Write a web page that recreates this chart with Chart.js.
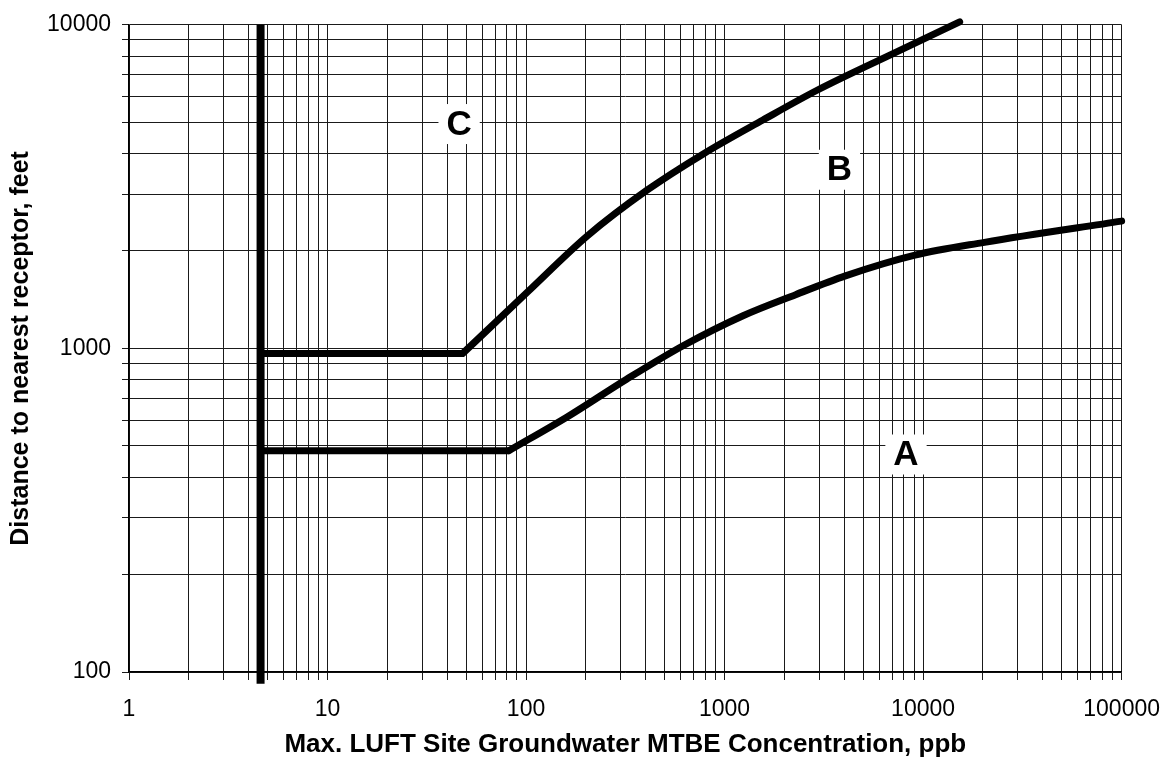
<!DOCTYPE html>
<html>
<head>
<meta charset="utf-8">
<script src="https://cdn.jsdelivr.net/npm/chart.js@4.4.1/dist/chart.umd.min.js"></script>
<style>
  html, body { margin: 0; padding: 0; background: #fff; }
  #wrap { width: 1176px; height: 758px; position: relative; }
</style>
</head>
<body>
<div id="wrap"><canvas id="luftChart"></canvas></div>
<script>
// heavy vertical line (ppb)
const markerX = [4.6, 4.6];
const markerY = [92, 10000];

// curve A
const aFlatX = [4.6, 82];
const aFlatY = [483, 483];
const aRiseX = [82, 161, 321, 621, 1239, 2281, 4063, 9101, 20380, 100000];
const aRiseY = [483, 614, 803, 1021, 1262, 1466, 1676, 1942, 2127, 2473];

// curve B
const bFlatX = [4.6, 48];
const bFlatY = [965, 965];
const bRiseX = [48, 102, 203, 405, 781, 1560, 2974, 7230, 15280];
const bRiseY = [965, 1496, 2223, 3077, 3991, 5080, 6310, 8204, 10214];

// zone letters
const zoneNames = ['A', 'B', 'C'];
const zoneX = [8200, 3790, 46];
const zoneY = [470, 3565, 4935];

const xTickLabels = ['1', '10', '100', '1000', '10000', '100000'];
const yTickLabels = ['100', '1000', '10000'];

const FONT = '"Liberation Sans", Arial, sans-serif';

function pts(xs, ys) {
  return xs.map((v, i) => ({ x: v, y: ys[i] }));
}

// 1..9 in every decade, plus the last decade value
function logTicks(labels) {
  const decs = labels.map(Number);
  const out = [];
  for (let i = 0; i < decs.length - 1; i++) {
    for (let m = 1; m < 10; m++) out.push({ value: decs[i] * m });
  }
  out.push({ value: decs[decs.length - 1] });
  return out;
}

const zoneLetters = {
  id: 'zoneLetters',
  afterDatasetsDraw(chart) {
    const { ctx, scales: { x, y } } = chart;
    ctx.save();
    ctx.font = 'bold 35px ' + FONT;
    ctx.textAlign = 'center';
    ctx.textBaseline = 'middle';
    zoneNames.forEach((name, i) => {
      const px = x.getPixelForValue(zoneX[i]);
      const py = y.getPixelForValue(zoneY[i]);
      const w = ctx.measureText(name).width;
      ctx.fillStyle = '#fff';
      ctx.fillRect(px - w / 2 - 8, py - 20, w + 16, 40);
      ctx.fillStyle = '#000';
      ctx.fillText(name, px, py + 1);
    });
    ctx.restore();
  }
};

const heavy = { borderColor: '#000', pointRadius: 0, fill: false, clip: 14 };

new Chart(document.getElementById('luftChart'), {
  type: 'line',
  data: {
    datasets: [
      { ...heavy, label: 'limit', data: pts(markerX, markerY), borderWidth: 8, borderCapStyle: 'butt' },
      { ...heavy, label: 'A flat', data: pts(aFlatX, aFlatY), borderWidth: 7 },
      { ...heavy, label: 'A', data: pts(aRiseX, aRiseY), borderWidth: 7, borderCapStyle: 'round', cubicInterpolationMode: 'monotone' },
      { ...heavy, label: 'B flat', data: pts(bFlatX, bFlatY), borderWidth: 7 },
      { ...heavy, label: 'B', data: pts(bRiseX, bRiseY), borderWidth: 7, borderCapStyle: 'round', cubicInterpolationMode: 'monotone' }
    ]
  },
  options: {
    responsive: true,
    maintainAspectRatio: false,
    animation: false,
    events: [],
    layout: { padding: { top: 20, right: 48, bottom: 0, left: 0 } },
    plugins: {
      legend: { display: false },
      tooltip: { enabled: false }
    },
    scales: {
      x: {
        type: 'logarithmic',
        min: 1,
        max: 100000,
        afterBuildTicks: (scale) => { scale.ticks = logTicks(xTickLabels); },
        afterFit: (scale) => { scale.height = 86; },
        grid: { color: '#1a1a1a', lineWidth: 1, tickLength: 8 },
        border: { display: true, color: '#000', width: 1.5 },
        ticks: {
          autoSkip: false,
          maxRotation: 0,
          padding: 16,
          color: '#000',
          font: { family: FONT, size: 23 },
          callback: (v) => xTickLabels.includes(String(v)) ? String(v) : ''
        },
        title: {
          display: true,
          text: 'Max. LUFT Site Groundwater MTBE Concentration, ppb',
          color: '#000',
          font: { family: FONT, size: 26, weight: 'bold', lineHeight: 1 },
          padding: { top: 0, bottom: 0 }
        }
      },
      y: {
        type: 'logarithmic',
        min: 100,
        max: 10000,
        afterBuildTicks: (scale) => { scale.ticks = logTicks(yTickLabels); },
        afterFit: (scale) => { scale.width = 129; },
        grid: { color: '#1a1a1a', lineWidth: 1, tickLength: 7 },
        border: { display: true, color: '#000', width: 1.5 },
        ticks: {
          autoSkip: false,
          padding: 11,
          color: '#000',
          font: { family: FONT, size: 23 },
          callback: (v) => yTickLabels.includes(String(v)) ? String(v) : ''
        },
        title: {
          display: true,
          text: 'Distance to nearest receptor, feet',
          color: '#000',
          font: { family: FONT, size: 25, weight: 'bold', lineHeight: 1 },
          padding: { top: 9, bottom: 0 }
        }
      }
    }
  },
  plugins: [zoneLetters]
});
</script>
</body>
</html>
